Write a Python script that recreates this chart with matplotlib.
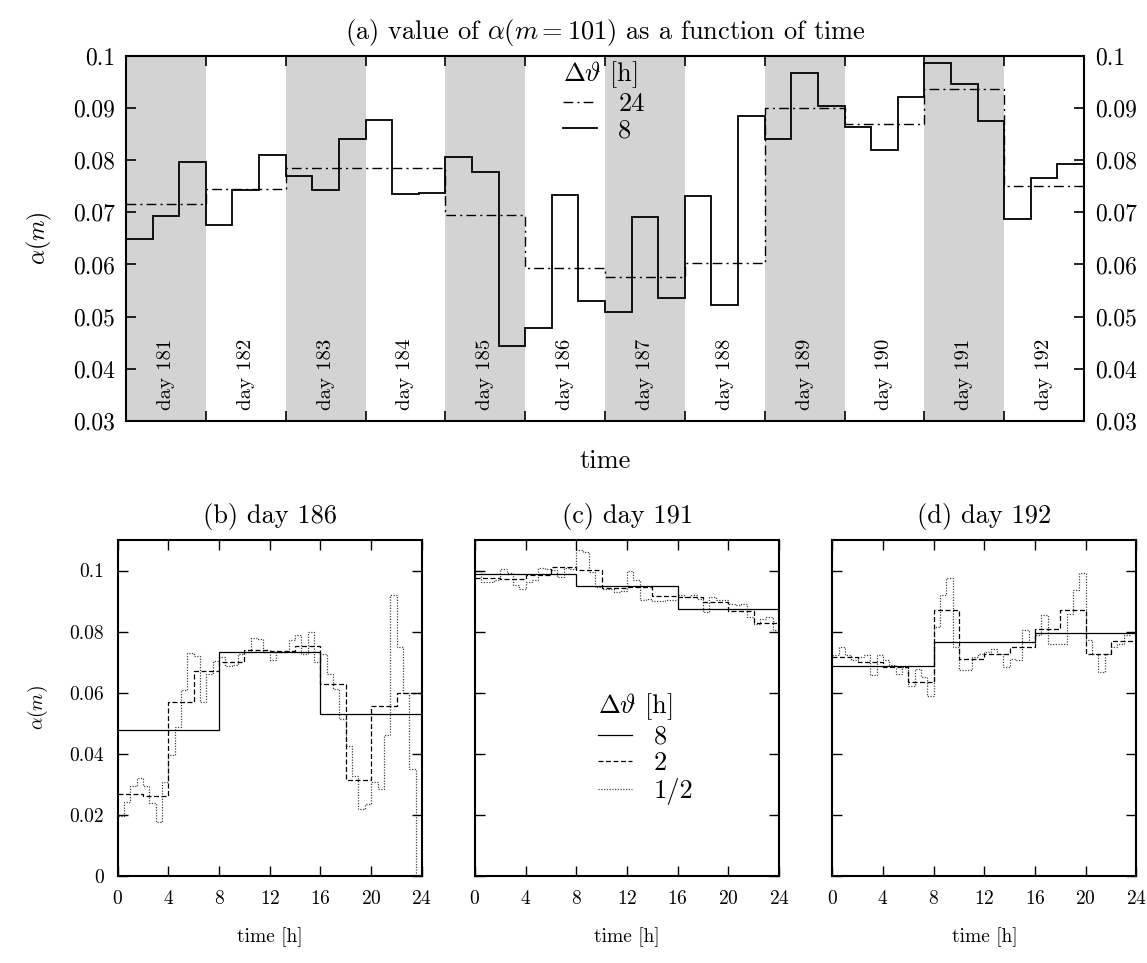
import numpy as np
import matplotlib.pyplot as plt
from matplotlib.lines import Line2D
from matplotlib.transforms import blended_transform_factory

plt.rcParams['font.family'] = 'serif'
plt.rcParams['font.serif'] = ['cmr10']
plt.rcParams['mathtext.fontset'] = 'cm'
plt.rcParams['axes.formatter.use_mathtext'] = True

# ---- data ----
days = [181, 182, 183, 184, 185, 186, 187, 188, 189, 190, 191, 192]
alpha_24h = [0.0715, 0.0745, 0.0785, 0.0785, 0.0695, 0.0593,
             0.0575, 0.0603, 0.0899, 0.0869, 0.0936, 0.0750]
alpha_8h = [0.0648, 0.0692, 0.0797, 0.0676, 0.0743, 0.0810,
            0.0770, 0.0743, 0.0840, 0.0876, 0.0735, 0.0736,
            0.0805, 0.0777, 0.0443, 0.0479, 0.0733, 0.0529,
            0.0508, 0.0690, 0.0535, 0.0731, 0.0522, 0.0885,
            0.0840, 0.0967, 0.0904, 0.0864, 0.0819, 0.0920,
            0.0986, 0.0946, 0.0874, 0.0687, 0.0766, 0.0793]

# day 186
d186_8h = [0.0479, 0.0733, 0.0529]
d186_2h = [0.0269, 0.0262, 0.0569, 0.0670, 0.0700, 0.0741,
           0.0736, 0.0754, 0.0627, 0.0313, 0.0556, 0.0600]
d186_05h = [0.0198, 0.0242, 0.0294, 0.0320, 0.0296, 0.0240, 0.0176, 0.0307,
            0.0395, 0.0487, 0.0610, 0.0730, 0.0720, 0.0570, 0.0660, 0.0704,
            0.0717, 0.0687, 0.0690, 0.0728, 0.0733, 0.0779, 0.0777, 0.0733,
            0.0708, 0.0733, 0.0733, 0.0772, 0.0788, 0.0726, 0.0800, 0.0700,
            0.0728, 0.0660, 0.0613, 0.0515, 0.0427, 0.0326, 0.0220, 0.0236,
            0.0307, 0.0285, 0.0460, 0.0920, 0.0750, 0.0600, 0.0350, 0.0005]

# day 191
d191_8h = [0.0987, 0.0948, 0.0874]
d191_2h = [0.0977, 0.0973, 0.0985, 0.1011, 0.1001, 0.0944,
           0.0946, 0.0916, 0.0914, 0.0897, 0.0867, 0.0828]
d191_05h = [0.0999, 0.0963, 0.0963, 0.0968, 0.1004, 0.0993, 0.0952, 0.0941,
            0.0963, 0.0970, 0.1007, 0.1004, 0.1001, 0.0979, 0.1007, 0.1005,
            0.1067, 0.1059, 0.0996, 0.0946, 0.0939, 0.0941, 0.0930, 0.0933,
            0.0998, 0.0968, 0.0903, 0.0908, 0.0899, 0.0899, 0.0903, 0.0903,
            0.0919, 0.0914, 0.0919, 0.0908, 0.0864, 0.0914, 0.0903, 0.0903,
            0.0892, 0.0886, 0.0892, 0.0848, 0.0826, 0.0842, 0.0848, 0.0804]

# day 192
d192_8h = [0.0687, 0.0766, 0.0795]
d192_2h = [0.0717, 0.0701, 0.0684, 0.0635, 0.0870, 0.0711,
           0.0728, 0.0750, 0.0808, 0.0870, 0.0726, 0.0769]
d192_05h = [0.0722, 0.0750, 0.0722, 0.0708, 0.0717, 0.0722, 0.0657, 0.0722,
            0.0708, 0.0690, 0.0660, 0.0684, 0.0621, 0.0679, 0.0651, 0.0588,
            0.0815, 0.0919, 0.0974, 0.0750, 0.0673, 0.0673, 0.0717, 0.0726,
            0.0733, 0.0744, 0.0728, 0.0684, 0.0711, 0.0708, 0.0804, 0.0766,
            0.0788, 0.0854, 0.0758, 0.0758, 0.0761, 0.0859, 0.0936, 0.0992,
            0.0772, 0.0728, 0.0668, 0.0728, 0.0750, 0.0761, 0.0788, 0.0799]

top_yticks = [0.03, 0.04, 0.05, 0.06, 0.07, 0.08, 0.09, 0.1]
top_ylabels = ['0.03', '0.04', '0.05', '0.06', '0.07', '0.08', '0.09', '0.1']
bot_yticks = [0, 0.02, 0.04, 0.06, 0.08, 0.1]
bot_ylabels = ['0', '0.02', '0.04', '0.06', '0.08', '0.1']
hour_ticks = [0, 4, 8, 12, 16, 20, 24]

# line styles
ls_24 = (0, (7, 3, 1.5, 3))
ls_2 = (0, (4, 2))
ls_05 = (0, (1, 1.2))

fig = plt.figure(figsize=(11.47, 9.63), dpi=100)

# ---- top panel ----
ax = fig.add_axes([0.1099, 0.5628, 0.8352, 0.3794])
for i, d in enumerate(days):
    if i % 2 == 0:
        ax.axvspan(d, d + 1, color='#d3d3d3', lw=0, zorder=0)
edges_day = np.append(days, days[-1] + 1)
edges_8 = days[0] + np.arange(len(alpha_8h) + 1) / 3
ax.stairs(alpha_24h, edges_day, baseline=None, color='k', lw=1.0, linestyle=ls_24)
ax.stairs(alpha_8h, edges_8, baseline=None, color='k', lw=1.3)

tr = blended_transform_factory(ax.transData, ax.transAxes)
for d in days:
    ax.text(d + 0.5, 0.03, 'day %d' % d, rotation=90, ha='center', va='bottom',
            fontsize=15, transform=tr)

ax.set_xlim(days[0], days[-1] + 1)
ax.set_ylim(0.03, 0.1)
ax.set_xticks(edges_day[1:-1])
ax.set_xticklabels([])
ax.set_yticks(top_yticks)
ax.set_yticklabels(top_ylabels)
ax.tick_params(direction='in', length=7, width=1.2, labelsize=17,
               top=True, right=True, labelright=True, pad=8)
for s in ax.spines.values():
    s.set_linewidth(1.5)
ax.set_xlabel('time', fontsize=19, labelpad=12)
ax.set_ylabel(r'$\alpha(m)$', fontsize=17, labelpad=14)
ax.set_title(r'(a) value of $\alpha(m=101)$ as a function of time', fontsize=19, pad=12)

h_top = [Line2D([], [], color='k', lw=1.0, linestyle=ls_24),
         Line2D([], [], color='k', lw=1.3)]
leg = ax.legend(h_top, ['24', '8'], title=r'$\Delta\vartheta$ [h]', loc='upper left',
                bbox_to_anchor=(0.445, 1.02), frameon=False, fontsize=19,
                title_fontsize=19, handlelength=1.3, handletextpad=0.8,
                labelspacing=0.1, alignment='left', borderaxespad=0)

# ---- bottom panels ----
panels = [
    ('(b) day 186', d186_8h, d186_2h, d186_05h, 0.1026),
    ('(c) day 191', d191_8h, d191_2h, d191_05h, 0.4141),
    ('(d) day 192', d192_8h, d192_2h, d192_05h, 0.7256),
]
for k, (title, v8, v2, v05, left) in enumerate(panels):
    bx = fig.add_axes([left, 0.0903, 0.2652, 0.349])
    bx.stairs(v05, np.arange(len(v05) + 1) * 0.5, baseline=None, color='#444444',
              lw=0.9, linestyle=ls_05)
    bx.stairs(v2, np.arange(len(v2) + 1) * 2, baseline=None, color='k',
              lw=0.9, linestyle=ls_2)
    bx.stairs(v8, np.arange(len(v8) + 1) * 8, baseline=None, color='k', lw=0.9)
    bx.set_xlim(0, 24)
    bx.set_ylim(0, 0.11)
    bx.set_xticks(hour_ticks)
    bx.set_yticks(bot_yticks)
    if k == 0:
        bx.set_yticklabels(bot_ylabels)
        bx.set_ylabel(r'$\alpha(m)$', fontsize=14, labelpad=14)
    else:
        bx.set_yticklabels([])
    bx.tick_params(direction='in', length=7, width=1.0, labelsize=14,
                   top=True, right=True, pad=10)
    for s in bx.spines.values():
        s.set_linewidth(1.5)
    bx.set_xlabel('time [h]', fontsize=14, labelpad=14)
    bx.set_title(title, fontsize=19, pad=12)
    if k == 1:
        h_bot = [Line2D([], [], color='k', lw=0.9),
                 Line2D([], [], color='k', lw=0.9, linestyle=ls_2),
                 Line2D([], [], color='#444444', lw=0.9, linestyle=ls_05)]
        bx.legend(h_bot, ['8', '2', '1/2'], title=r'$\Delta\vartheta$ [h]',
                  loc='upper left', bbox_to_anchor=(0.37, 0.58), frameon=False,
                  fontsize=19, title_fontsize=19, handlelength=1.3,
                  handletextpad=0.8, labelspacing=0.1, alignment='left',
                  borderaxespad=0)

fig.savefig('out.png', dpi=100)
